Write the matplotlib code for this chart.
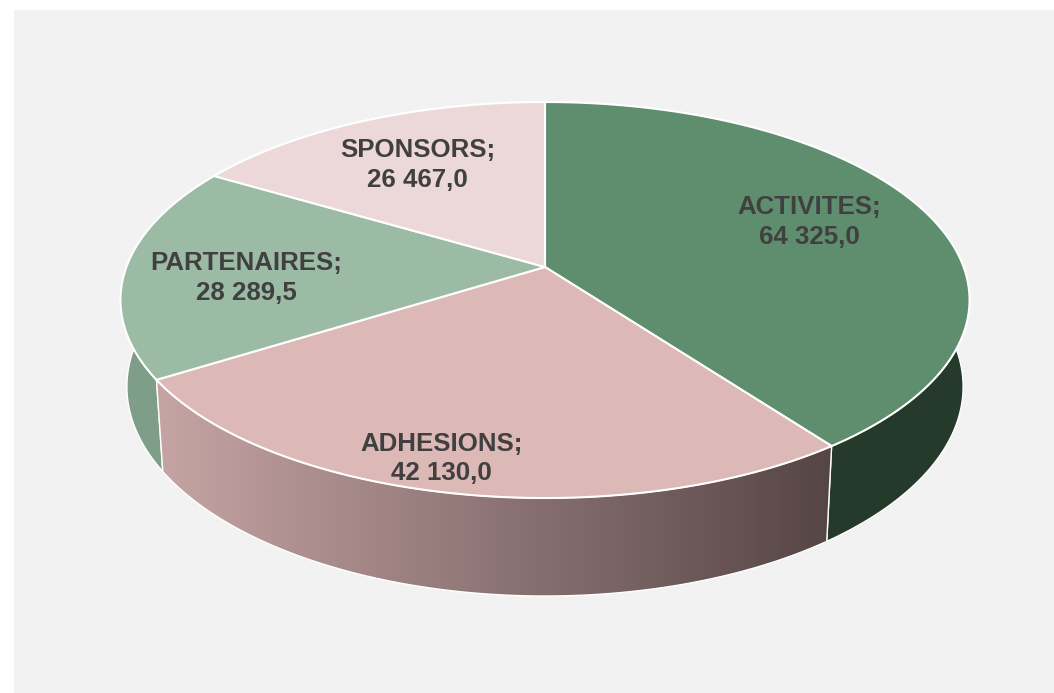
import numpy as np
import matplotlib
matplotlib.use("Agg")
import matplotlib.pyplot as plt
from matplotlib.patches import Polygon, Rectangle
from matplotlib.colors import LinearSegmentedColormap

categories = ["ACTIVITES", "ADHESIONS", "PARTENAIRES", "SPONSORS"]
values = [64325.0, 42130.0, 28289.5, 26467.0]
top_colors = ["#5e8e6e", "#dcb8b7", "#9bbba5", "#ecd8d8"]
side_colors = ["#263a2b", None, "#7e9e89", "#c9b2b2"]
# label anchor in pie coords: (angle deg clockwise from 12h, radius fraction)
label_pos = [(69.7, 0.70), (194.0, 0.88), (265.4, 0.71), (330.1, 0.67)]

# projection of the tilted disc (pixel space)
CX, CY = 545, 267
A, B, K, H, M = 418.6, 192.5, 0.1667, 86.6, 0.015


def proj(theta, r=1.0, z=0.0):
    u, v = r * np.sin(theta), r * np.cos(theta)
    w = 1 + K * v + M * z
    return CX + A * u / w, CY - (B * v - H * z) / w


def fmt(v):
    return f"{v:,.1f}".replace(",", " ").replace(".", ",")


fig = plt.figure(figsize=(10.54, 6.93), dpi=100, facecolor="white")
ax = fig.add_axes([0, 0, 1, 1])
ax.add_patch(Rectangle((14, 10), 1054 - 14, 693 - 10, facecolor="#f2f2f2", edgecolor="none", zorder=0))

bounds = np.concatenate([[0], np.cumsum(values)]) / sum(values) * 2 * np.pi

# curved sides, back slices first
for i in [3, 2, 0, 1]:
    t = np.linspace(bounds[i], bounds[i + 1], 200)
    xt, yt = proj(t)
    xb, yb = proj(t[::-1], z=1.0)
    pts = np.column_stack([np.concatenate([xt, xb]), np.concatenate([yt, yb])])
    if side_colors[i] is not None:
        ax.add_patch(Polygon(pts, closed=True, facecolor=side_colors[i], edgecolor="white", lw=1.0, zorder=1))
    else:
        patch = Polygon(pts, closed=True, facecolor="none", edgecolor="white", lw=1.0, zorder=2)
        ax.add_patch(patch)
        cmap = LinearSegmentedColormap.from_list("side", ["#c6a4a4", "#564545"])
        grad = np.linspace(0, 1, 256)[None, :]
        im = ax.imshow(grad, cmap=cmap, aspect="auto", zorder=1,
                       extent=[pts[:, 0].min(), pts[:, 0].max(), pts[:, 1].max(), pts[:, 1].min()])
        im.set_clip_path(patch)

# top faces
for i in range(len(values)):
    t = np.linspace(bounds[i], bounds[i + 1], 200)
    xt, yt = proj(t)
    pts = np.column_stack([np.concatenate([[CX], xt]), np.concatenate([[CY], yt])])
    ax.add_patch(Polygon(pts, closed=True, facecolor=top_colors[i], edgecolor="white", lw=1.5, zorder=3))

for cat, v, (ang, r) in zip(categories, values, label_pos):
    x, y = proj(np.deg2rad(ang), r)
    ax.text(x, y, f"{cat};\n{fmt(v)}", ha="center", va="center", fontsize=18.6, fontweight="bold",
            color="#404040", family=["Liberation Sans", "DejaVu Sans"], linespacing=1.3, zorder=4)

ax.set_xlim(0, 1054)
ax.set_ylim(693, 0)
ax.axis("off")
fig.savefig("out.png", dpi=100, facecolor="white")
